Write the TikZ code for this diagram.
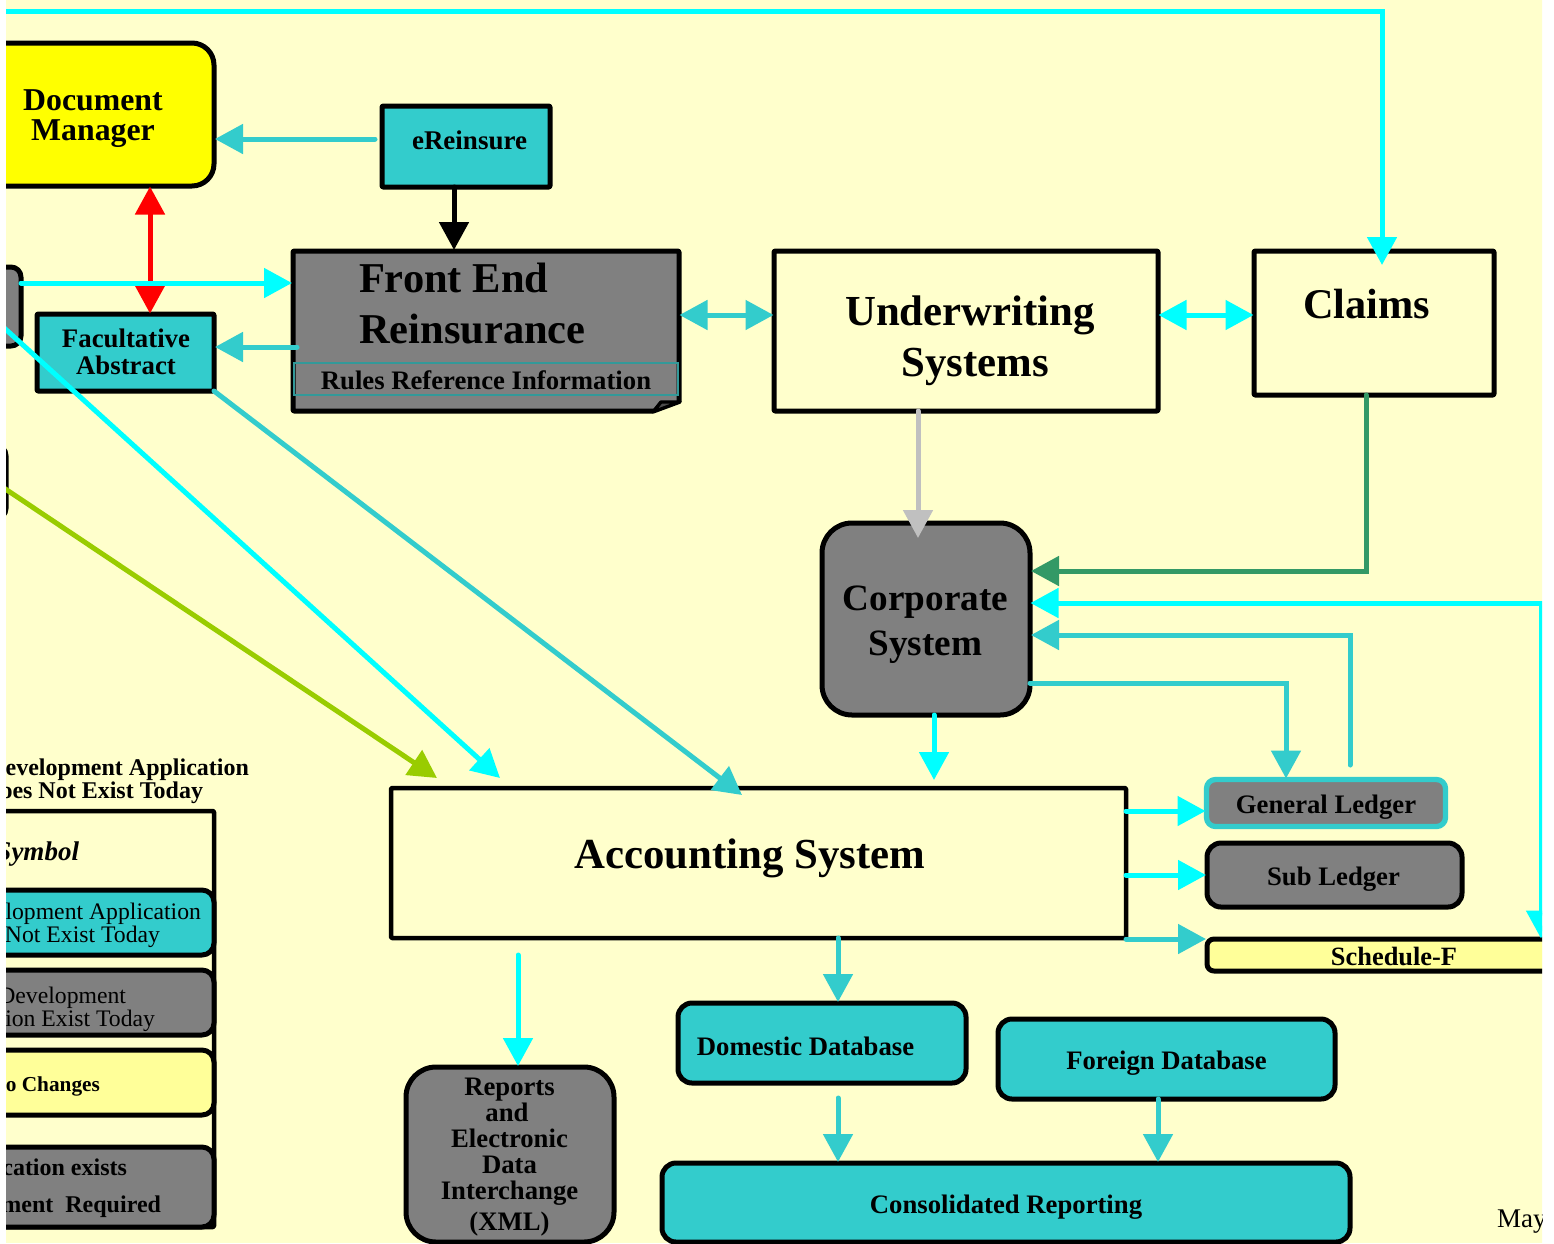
\documentclass[tikz,border=0pt]{standalone}
\usepackage{fontspec}
\setmainfont{Liberation Serif}
\usetikzlibrary{arrows.meta}
\definecolor{bgc}{HTML}{FFFFCC}
\definecolor{tealc}{HTML}{33CCCC}
\definecolor{cyanc}{HTML}{00FFFF}
\definecolor{grayc}{HTML}{808080}
\definecolor{yelc}{HTML}{FFFF00}
\definecolor{lyc}{HTML}{FFFF99}
\definecolor{grnc}{HTML}{339966}
\definecolor{limec}{HTML}{99CC00}
\definecolor{silvc}{HTML}{C0C0C0}
\definecolor{thinc}{HTML}{339999}
% pos, dx, dy(up), size, leading, lines : text in a node, moved from its centre
\newcommand\tx[6]{\kern#2pt\makebox[0pt][#1]{\raisebox{#3pt}[0pt][0pt]{\fontsize{#4pt}{#5pt}\selectfont\begin{tabular}[c]{@{}#1@{}}#6\end{tabular}}}\kern-#2pt}
\tikzset{
  x=1pt,y=-1pt,
  box/.style={draw=black,line width=5pt,outer sep=0pt,inner sep=0pt,font=\bfseries,line join=round},
  sq/.style={box,rounded corners=1pt},
  rnd/.style={box,rounded corners=14pt},
  rowbox/.style={box,rounded corners=12pt},
  wire/.style={line width=5pt,line cap=round},
  tip/.style={-{Triangle[length=28pt,width=29pt]},shorten >=1pt},
  dtip/.style={{Triangle[length=28pt,width=29pt]}-{Triangle[length=28pt,width=29pt]},shorten >=0.5pt,shorten <=0.5pt},
  lbl/.style={inner sep=0pt,outer sep=0pt},
}
\begin{document}
\begin{tikzpicture}
\path[use as bounding box,fill=white] (0,0) rectangle (1554,1243);
\begin{scope}
\clip (6,0) rectangle (1542,1243);
\fill[bgc] (0,0) rectangle (1554,1243);

% free connector ends
\coordinate (topstart) at (-10,11);
\coordinate (cstart) at (-20,306);
\coordinate (ctip) at (500,778);
\coordinate (lstart) at (-20,472);
\coordinate (ltip) at (437,778);
\coordinate (ttip) at (742,795);
\coordinate (glup) at (1350,765);

% boxes
\node[rnd,rounded corners=22pt,fill=yelc,minimum width=242pt,minimum height=143pt] (doc) at (93,114.5) {\tx{c}{0}{-11}{31.8}{30}{Document\\Manager}};
\node[sq,fill=tealc,minimum width=168pt,minimum height=81pt] (ere) at (466,146.5) {\tx{c}{3.5}{-3.5}{27}{30}{eReinsure}};
\node[rnd,rounded corners=10pt,fill=grayc,minimum width=121pt,minimum height=79pt] (lg1) at (-39.5,306.5) {};
\node[rnd,rounded corners=10pt,fill=grayc,minimum width=112pt,minimum height=73pt] (lg2) at (-50,482) {};
\node[sq,fill=tealc,minimum width=177pt,minimum height=77pt] (fac) at (125.5,352.5) {\tx{c}{0.5}{-9.3}{26.8}{27}{Facultative\\Abstract}};
\node[sq,fill=grayc,minimum width=386pt,minimum height=160pt] (fe) at (486,331) {\tx{l}{-127}{16.5}{42.5}{51}{Front End\\Reinsurance}};
\node[draw=thinc,line width=1.4pt,outer sep=0pt,inner sep=0pt,font=\bfseries,minimum width=384pt,minimum height=32pt] (rr) at (486,379) {\tx{c}{0}{-11}{26.7}{30}{Rules Reference Information}};
% folded corner of the Front End box
\fill[bgc] (653,413) -- (682,402) -- (684,416) -- (653,416) -- cycle;
\draw[line width=3.4pt,line join=round,fill=grayc!60!black] (653,412) -- (661,402) -- (680,402) -- cycle;
\node[sq,fill=bgc,minimum width=384pt,minimum height=160pt] (uw) at (966,331) {\tx{c}{4}{-15.8}{42.8}{51}{Underwriting\\\hspace*{10pt}Systems}};
\node[sq,fill=bgc,minimum width=240pt,minimum height=144pt] (claims) at (1374,323) {\tx{c}{-7.5}{8.5}{42.3}{51}{Claims}};
\node[rnd,rounded corners=30pt,fill=grayc,minimum width=208pt,minimum height=192pt] (corp) at (926,619) {\tx{c}{-0.5}{-10.75}{37.2}{45}{Corporate\\System}};
\node[sq,line width=4.5pt,fill=bgc,minimum width=735pt,minimum height=150pt] (acc) at (758.5,863) {\tx{c}{-8.5}{-2}{42.8}{50}{Accounting System}};
\node[rnd,rounded corners=9pt,draw=tealc,line width=5.3pt,fill=grayc,minimum width=239pt,minimum height=47pt] (gl) at (1326,803) {\tx{c}{0}{-11}{26.7}{30}{General Ledger}};
\node[rnd,fill=grayc,minimum width=255pt,minimum height=64pt] (sl) at (1334.5,875) {\tx{c}{-1}{-11}{26.7}{30}{Sub Ledger}};
\node[rnd,rounded corners=7pt,fill=lyc,minimum width=493pt,minimum height=32pt] (sch) at (1453.5,955) {\tx{c}{-59.5}{-11}{26.4}{30}{Schedule-F}};
\node[rnd,fill=tealc,minimum width=288pt,minimum height=80pt] (dom) at (822,1043) {\tx{c}{-16.5}{-13}{26.7}{30}{Domestic Database}};
\node[rnd,fill=tealc,minimum width=337pt,minimum height=80pt] (for) at (1166.5,1059) {\tx{c}{0}{-11}{26.7}{30}{Foreign Database}};
\node[rnd,fill=tealc,minimum width=688pt,minimum height=79pt] (con) at (1006,1202.5) {\tx{c}{0}{-11.5}{26.7}{30}{Consolidated Reporting}};
\node[rnd,rounded corners=30pt,fill=grayc,minimum width=208pt,minimum height=175pt] (rep) at (510,1154.5) {\tx{c}{-0.5}{-9.4}{26.7}{25.7}{Reports\\\hspace*{-5pt}and\\Electronic\\Data\\Interchange\\[4pt](XML)}};

% legend
\node[lbl,font=\bfseries] (lh) at (249,788) {\tx{r}{0}{0}{24}{22.5}{evelopment Application\\oes Not Exist Today\hspace*{46pt}}};
\node[sq,line width=4.5pt,fill=bgc,minimum width=414pt,minimum height=416pt] (leg) at (7,1019) {\tx{r}{72}{158}{27}{30}{\itshape Symbol}};
\node[rowbox,fill=tealc,font=\normalfont,minimum width=314pt,minimum height=65pt] (r1) at (57,922.5) {\tx{r}{144}{-10}{23.7}{23}{lopment Application\\Not Exist Today\hspace*{41pt}}};
\node[rowbox,fill=grayc,font=\normalfont,minimum width=314pt,minimum height=65pt] (r2) at (57,1002.5) {\tx{r}{98}{-13.5}{23.7}{22.5}{Development\hspace*{29pt}\\ion Exist Today}};
\node[rowbox,fill=lyc,minimum width=314pt,minimum height=65pt] (r3) at (57,1082.5) {\tx{r}{43}{-9.5}{21.3}{25}{o Changes}};
\node[rowbox,fill=grayc,minimum width=314pt,minimum height=80pt] (r4) at (57,1187) {\tx{r}{104}{-6}{24}{37}{cation exists\hspace*{34pt}\\ment\ \ Required}};
\node[lbl,anchor=base west] (may) at (1497,1227) {\fontsize{27pt}{30pt}\selectfont May};

% connectors
\draw[wire,red,dtip] (doc.south -| 150,0) -- (fac.north -| 150,0);
\draw[wire,cyanc,tip] (topstart) -| (claims.north -| 1382,0) [shorten >=-14pt];
\draw[wire,tealc,tip,shorten <=7pt] (ere.west |- 0,139) -- (doc.east |- 0,139);
\draw[wire,black,tip] (ere.south -| 454,0) -- (fe.north -| 454,0);
\draw[wire,cyanc,tip] (lg1.east |- 0,283) -- (fe.west |- 0,283);
\draw[wire,tealc,tip,shorten <=-4pt] (fe.west |- 0,347) -- (fac.east |- 0,347);
\draw[wire,limec,tip,shorten >=0pt] (lstart) -- (ltip);
\draw[wire,cyanc,tip,shorten >=0pt] (cstart) -- (ctip);
\draw[wire,tealc,tip,shorten >=0pt] (fac.south east) -- (ttip);
\draw[wire,tealc,dtip] (fe.east |- 0,315) -- (uw.west |- 0,315);
\draw[wire,cyanc,dtip] (uw.east |- 0,315) -- (claims.west |- 0,315);
\draw[wire,silvc,tip,shorten >=-15pt] (uw.south -| 918,0) -- (corp.north -| 918,0);
\draw[wire,grnc,tip] (claims.south -| 1366,0) |- (corp.east |- 0,571);
\draw[wire,cyanc,dtip] (corp.east |- 0,603) -| (sch.north -| 1541,0);
\draw[wire,tealc,tip] (glup) |- (corp.east |- 0,635);
\draw[wire,tealc,tip] (corp.east |- 0,683) -| (gl.north -| 1286,0);
\draw[wire,cyanc,tip,shorten >=8pt] (corp.south -| 934,0) -- (acc.north -| 934,0);
\draw[wire,cyanc,tip] (acc.east |- 0,811) -- (gl.west |- 0,811);
\draw[wire,cyanc,tip] (acc.east |- 0,875) -- (sl.west |- 0,875);
\draw[wire,tealc,tip] (acc.east |- 0,939) -- (sch.west |- 0,939);
\draw[wire,cyanc,tip,shorten <=17pt] (acc.south -| 518,0) -- (rep.north -| 518,0);
\draw[wire,tealc,tip] (acc.south -| 838,0) -- (dom.north -| 838,0);
\draw[wire,tealc,tip,shorten <=15pt] (dom.south -| 838,0) -- (con.north -| 838,0);
\draw[wire,tealc,tip] (for.south -| 1158,0) -- (con.north -| 1158,0);
\end{scope}
\end{tikzpicture}
\end{document}
